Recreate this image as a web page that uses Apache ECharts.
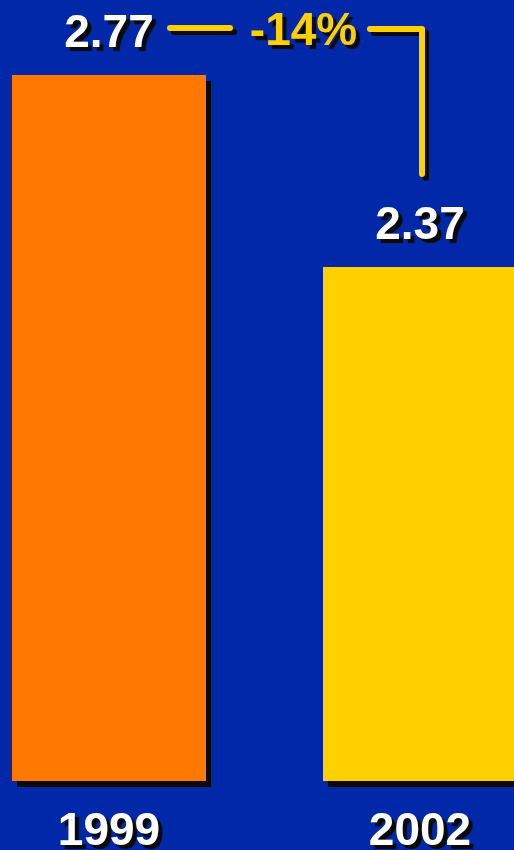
<!DOCTYPE html>
<html><head><meta charset="utf-8">
<script src="https://cdn.jsdelivr.net/npm/echarts@6/dist/echarts.min.js"></script>
<style>html,body{margin:0;padding:0;background:#0028A8;}#c{width:514px;height:850px;}</style>
</head><body><div id="c"></div>
<script>
const years = ['1999', '2002'];
const values = [2.77, 2.37];
const barColors = ['#FF7800', '#FFD000'];

const FONT = '"Liberation Sans", Arial, sans-serif';
const chart = echarts.init(document.getElementById('c'), null, {renderer: 'canvas'});
const txtShadow = {textShadowColor: '#0a0a0a', textShadowOffsetX: 4, textShadowOffsetY: 4, textShadowBlur: 1};
chart.setOption({
  backgroundColor: '#0028A8',
  animation: false,
  grid: {left: -46.5, right: -61.5, top: 75, bottom: 69, outerBoundsMode: 'none', containLabel: false},
  xAxis: {
    type: 'category', data: years,
    axisLine: {show: false}, axisTick: {show: false},
    axisLabel: Object.assign({color: '#fff', fontSize: 46, fontWeight: 'bold', fontFamily: FONT, margin: 28}, txtShadow)
  },
  yAxis: {type: 'value', min: 1.3, max: 2.77, show: false, splitLine: {show: false}},
  series: [{
    type: 'bar', barWidth: 194,
    data: values.map((v, i) => ({value: v, itemStyle: {color: barColors[i]}})),
    itemStyle: {shadowColor: '#0a0a0a', shadowOffsetX: 5, shadowOffsetY: 6, shadowBlur: 0},
    label: Object.assign({show: true, position: 'top', distance: 18, color: '#fff', fontSize: 46, fontWeight: 'bold', fontFamily: FONT}, txtShadow)
  }]
});

const p1 = chart.convertToPixel({seriesIndex: 0}, [0, values[0]]);
const p2 = chart.convertToPixel({seriesIndex: 0}, [1, values[1]]);
const pct = Math.round((values[1] - values[0]) / values[0] * 100);
const lineY = p1[1] - 47;
const lineStyle = {stroke: '#FFD000', lineWidth: 6, lineCap: 'round', lineJoin: 'round', shadowColor: '#0a0a0a', shadowOffsetX: 4, shadowOffsetY: 4, shadowBlur: 0};
chart.setOption({
  graphic: [
    {type: 'line', shape: {x1: p1[0] + 61, y1: lineY, x2: p1[0] + 121, y2: lineY}, style: lineStyle, z: 100},
    {type: 'polyline', shape: {points: [[p2[0] - 50, lineY + 1], [p2[0] + 2, lineY + 1], [p2[0] + 2, p2[1] - 93]]}, style: Object.assign({fill: null}, lineStyle), z: 100},
    {type: 'text', x: (p1[0] + p2[0]) / 2 + 39, y: lineY + 4, style: Object.assign({text: pct + '%', fill: '#FFD000', font: 'bold 46px ' + FONT, textAlign: 'center', textVerticalAlign: 'middle'}, txtShadow), z: 100}
  ]
});
</script></body></html>
